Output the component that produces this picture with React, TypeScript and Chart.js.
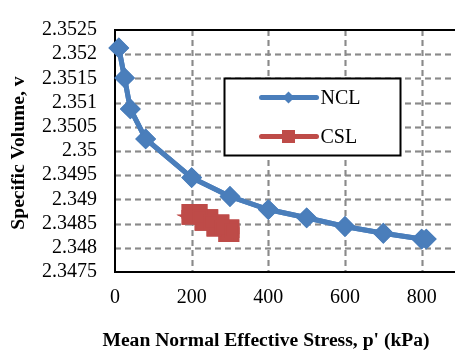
import React, { useEffect, useRef } from 'react';
import { Chart, registerables } from 'chart.js';

Chart.register(...registerables);

// ---- data ----
const nclP = [10, 25, 40, 80, 200, 300, 400, 500, 600, 700, 800, 812];
const nclV = [2.35213, 2.35151, 2.35087, 2.35025, 2.34945, 2.34906, 2.34879, 2.34862, 2.34844, 2.3483, 2.34818, 2.34818];

const cslP = [193, 222, 250, 279, 305, 305, 289, 258, 227, 193, 222, 250, 279, 305];
const cslV = [2.348755, 2.348755, 2.348645, 2.348535, 2.348433, 2.348271, 2.348271, 2.348384, 2.348502, 2.348629, 2.348637, 2.348533, 2.348422, 2.348353];

const xTicks = [0, 200, 400, 600, 800];
const xTickLabels = ['0', '200', '400', '600', '800'];
const yTicks = [2.3475, 2.348, 2.3485, 2.349, 2.3495, 2.35, 2.3505, 2.351, 2.3515, 2.352, 2.3525];
const yTickLabels = ['2.3475', '2.348', '2.3485', '2.349', '2.3495', '2.35', '2.3505', '2.351', '2.3515', '2.352', '2.3525'];

const seriesNames = ['NCL', 'CSL'];
const xTitle = "Mean Normal Effective Stress, p' (kPa)";
const yTitle = 'Specific Volume, v';

const BLUE = '#4a7ebb';
const RED = '#be4b48';
const GRID = '#8a8a8a';
const SERIF = '"Liberation Serif", "Times New Roman", serif';

function drawGrid(chart: any, op: string) {
  const ctx = chart.ctx;
  const a = chart.chartArea;
  const xs = chart.scales.x;
  const ys = chart.scales.y;
  ctx.save();
  ctx.globalCompositeOperation = op;
  ctx.strokeStyle = GRID;
  ctx.lineWidth = 1.5;
  ctx.setLineDash([6, 4]);
  for (let i = 1; i < xTicks.length; i++) {
    const px = Math.round(xs.getPixelForValue(xTicks[i])) + 0.5;
    ctx.beginPath();
    ctx.moveTo(px, a.top);
    ctx.lineTo(px, a.bottom);
    ctx.stroke();
  }
  for (let i = 1; i < yTicks.length - 1; i++) {
    const py = Math.round(ys.getPixelForValue(yTicks[i])) + 0.5;
    ctx.beginPath();
    ctx.moveTo(a.left, py);
    ctx.lineTo(a.right, py);
    ctx.stroke();
  }
  ctx.restore();
}

function drawFrame(chart: any, op: string) {
  const ctx = chart.ctx;
  const a = chart.chartArea;
  ctx.save();
  ctx.globalCompositeOperation = op;
  ctx.setLineDash([]);
  ctx.strokeStyle = '#000';
  ctx.lineWidth = 2;
  ctx.beginPath();
  ctx.moveTo(a.right, a.top);
  ctx.lineTo(a.left, a.top);
  ctx.lineTo(a.left, a.bottom);
  ctx.lineTo(a.right, a.bottom);
  ctx.stroke();
  ctx.restore();
}

const decorPlugin = {
  id: 'decor',
  beforeDatasetsDraw(chart: any) {
    drawGrid(chart, 'source-over');
    drawFrame(chart, 'source-over');
  },
  afterDraw(chart: any) {
    const { ctx, chartArea } = chart;
    const a = chartArea;
    // grid + frame, then the series again on top of them
    drawGrid(chart, 'source-over');
    drawFrame(chart, 'source-over');
    ctx.save();
    ctx.beginPath();
    ctx.rect(a.left - 12, a.top - 12, a.width + 24, a.height + 24);
    ctx.clip();
    const metas = chart.getSortedVisibleDatasetMetas();
    for (let i = metas.length - 1; i >= 0; i--) metas[i].controller.draw();
    ctx.restore();
    drawGrid(chart, 'destination-over');
    drawFrame(chart, 'destination-over');

    const L = a.left;
    const T = a.top;
    ctx.save();
    // axis titles
    ctx.fillStyle = '#000';
    ctx.font = 'bold 19.6px ' + SERIF;
    ctx.textAlign = 'center';
    ctx.textBaseline = 'middle';
    ctx.fillText(xTitle, 266, 341);
    ctx.save();
    ctx.translate(19, 153);
    ctx.rotate(-Math.PI / 2);
    ctx.fillText(yTitle, 0, 0);
    ctx.restore();

    // legend box
    const bx = L + 109.5, by = T + 48.5, bw = 176, bh = 77;
    ctx.fillStyle = '#fff';
    ctx.fillRect(bx, by, bw, bh);
    ctx.strokeStyle = '#000';
    ctx.lineWidth = 2;
    ctx.strokeRect(bx, by, bw, bh);

    const rows = [
      { y: by + 19, color: BLUE, marker: 'diamond' },
      { y: by + 58, color: RED, marker: 'square' },
    ];
    rows.forEach((r, i) => {
      ctx.strokeStyle = r.color;
      ctx.fillStyle = r.color;
      ctx.lineWidth = 5;
      ctx.lineCap = 'round';
      ctx.beginPath();
      ctx.moveTo(bx + 37, r.y);
      ctx.lineTo(bx + 92, r.y);
      ctx.stroke();
      const cx = bx + 64;
      ctx.beginPath();
      if (r.marker === 'diamond') {
        const rr = 6;
        ctx.moveTo(cx - rr, r.y);
        ctx.lineTo(cx, r.y - rr);
        ctx.lineTo(cx + rr, r.y);
        ctx.lineTo(cx, r.y + rr);
        ctx.closePath();
      } else {
        ctx.rect(cx - 6.5, r.y - 6.5, 13, 13);
      }
      ctx.fill();
      ctx.fillStyle = '#000';
      ctx.font = '20px ' + SERIF;
      ctx.textAlign = 'left';
      ctx.textBaseline = 'middle';
      ctx.fillText(seriesNames[i], bx + 96, r.y + 1);
    });
    ctx.restore();
  },
};

export default function App() {
  const ref = useRef<HTMLCanvasElement | null>(null);

  useEffect(() => {
    if (!ref.current) return;
    const chart = new Chart(ref.current, {
      type: 'scatter',
      data: {
        datasets: [
          {
            label: seriesNames[0],
            data: nclP.map((p, i) => ({ x: p, y: nclV[i] })),
            showLine: true,
            borderColor: BLUE,
            backgroundColor: BLUE,
            borderWidth: 5,
            pointStyle: 'rectRot',
            pointRadius: 9,
            pointBorderWidth: 2,
            pointBorderColor: BLUE,
            pointBackgroundColor: BLUE,
            clip: 12,
          },
          {
            label: seriesNames[1],
            data: cslP.map((p, i) => ({ x: p, y: cslV[i] })),
            showLine: true,
            borderColor: RED,
            backgroundColor: RED,
            borderWidth: 6,
            pointStyle: 'rect',
            pointRadius: 9,
            pointBorderWidth: 2,
            pointBorderColor: RED,
            pointBackgroundColor: RED,
            clip: 12,
          },
        ],
      },
      options: {
        animation: false,
        responsive: false,
        layout: { autoPadding: false, padding: { top: 17, right: 0, left: 0, bottom: 0 } },
        plugins: { legend: { display: false } },
        scales: {
          x: {
            type: 'linear',
            min: 0,
            max: 887,
            afterBuildTicks: (s: any) => { s.ticks = xTicks.map((v) => ({ value: v })); },
            afterFit: (s: any) => { s.height = 84; },
            ticks: {
              padding: 14,
              color: '#000',
              autoSkip: false,
              font: { family: SERIF, size: 20 },
              maxRotation: 0,
              callback: (_v: any, i: number) => xTickLabels[i],
            },
            grid: { display: false, drawTicks: false },
            border: { display: false },
          },
          y: {
            type: 'linear',
            min: 2.3475,
            max: 2.3525,
            afterBuildTicks: (s: any) => { s.ticks = yTicks.map((v) => ({ value: v })); },
            afterFit: (s: any) => { s.width = 115; },
            ticks: {
              padding: 18,
              color: '#000',
              autoSkip: false,
              font: { family: SERIF, size: 20 },
              callback: (_v: any, i: number) => yTickLabels[i],
            },
            grid: { display: false, drawTicks: false },
            border: { display: false },
          },
        },
      },
      plugins: [decorPlugin],
    });
    return () => chart.destroy();
  }, []);

  return (
    <div style={{ position: 'absolute', left: 0, top: 0, width: 455, height: 356 }}>
      <canvas ref={ref} width={455} height={356} />
    </div>
  );
}
